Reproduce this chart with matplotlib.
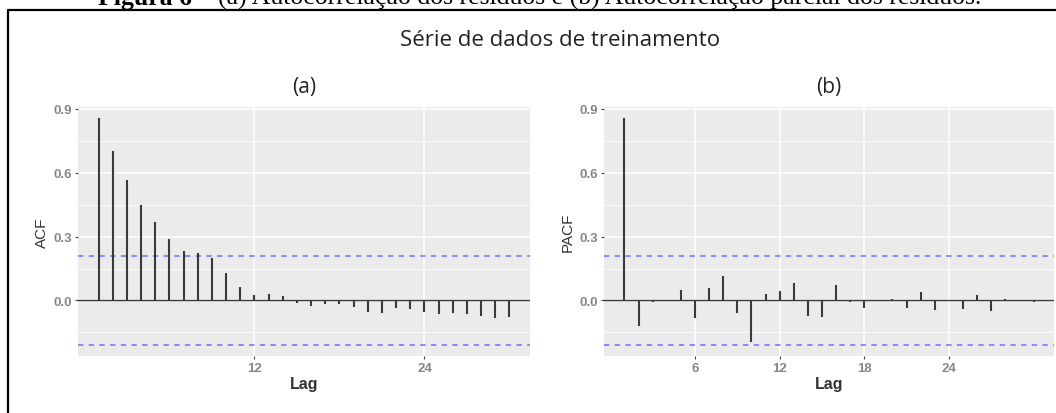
import numpy as np
import matplotlib
matplotlib.use("Agg")
import matplotlib.pyplot as plt
from matplotlib.lines import Line2D

# lags 1..30, values
lags = np.arange(1, 31)
acf_vals = [0.856, 0.701, 0.565, 0.450, 0.368, 0.287, 0.232, 0.221, 0.199, 0.128,
            0.063, 0.027, 0.030, 0.021, -0.014, -0.024, -0.017, -0.017, -0.033, -0.055,
            -0.058, -0.036, -0.041, -0.055, -0.063, -0.060, -0.062, -0.071, -0.081, -0.079]
pacf_vals = [0.856, -0.122, -0.008, 0.000, 0.049, -0.082, 0.057, 0.115, -0.060, -0.194,
             0.028, 0.044, 0.084, -0.073, -0.076, 0.073, -0.006, -0.035, 0.001, 0.008,
             -0.035, 0.038, -0.044, -0.002, -0.038, 0.025, -0.052, 0.005, 0.002, -0.006]
ci = 0.208

main_title = "Série de dados de treinamento"
caption_bold = "Figura 6"
caption_rest = " – (a) Autocorrelação dos resíduos e (b) Autocorrelação parcial dos resíduos."

W, H = 1056, 414
fig = plt.figure(figsize=(W / 100, H / 100), dpi=100)
fig.patch.set_facecolor("white")


def gg_panel(ax, values, ylabel, xticks):
    ax.set_facecolor("#EBEBEB")
    for s in ax.spines.values():
        s.set_visible(False)

    lo = min(min(values), -ci)
    hi = max(max(values), ci)
    pad = (hi - lo) * 0.05
    ax.set_ylim(lo - pad, hi + pad)
    xpad = (lags[-1] - lags[0]) * 0.05
    ax.set_xlim(lags[0] - xpad, lags[-1] + xpad)

    ax.set_yticks([0.0, 0.3, 0.6, 0.9])
    ax.set_yticklabels(["0.0", "0.3", "0.6", "0.9"])
    ax.set_yticks([-0.15, 0.15, 0.45, 0.75], minor=True)
    ax.set_xticks(xticks)
    ax.set_xticklabels([str(t) for t in xticks])

    ax.grid(True, which="major", color="white", linewidth=1.1)
    ax.grid(True, which="minor", axis="y", color="white", linewidth=0.55)
    ax.set_axisbelow(True)
    ax.tick_params(which="major", length=2.5, width=0.8, color="#444444",
                   labelsize=9.5, labelcolor="#868686", pad=2)
    ax.tick_params(which="minor", length=0)
    for lab in ax.get_xticklabels() + ax.get_yticklabels():
        lab.set_family("Liberation Sans")
        lab.set_weight("bold")

    ax.axhline(0, color="#3a3a3a", linewidth=1.0, zorder=2)
    ax.vlines(lags, 0, values, color="#3a3a3a", linewidth=1.5, zorder=3)
    ax.axhline(ci, color="#6f6fff", linewidth=1.1, linestyle=(0, (3.5, 3.5)), zorder=2)
    ax.axhline(-ci, color="#6f6fff", linewidth=1.1, linestyle=(0, (3.5, 3.5)), zorder=2)

    ax.set_xlabel("Lag", fontsize=11.5, color="#333333", labelpad=1,
                  family="Liberation Sans", weight="bold")
    ax.set_ylabel(ylabel, fontsize=11, color="#333333", labelpad=3,
                  family="Liberation Sans")


ax_a = fig.add_axes([78 / W, 1 - 357 / H, (530 - 78) / W, (357 - 108) / H])
ax_b = fig.add_axes([604 / W, 1 - 357 / H, (1054 - 604) / W, (357 - 108) / H])
gg_panel(ax_a, acf_vals, "ACF", [12, 24])
gg_panel(ax_b, pacf_vals, "PACF", [6, 12, 18, 24])

fig.text(560 / W, 1 - 40 / H, main_title, ha="center", va="center",
         fontsize=16, family="Open Sans", color="#222222")
fig.text(304 / W, 1 - 88 / H, "(a)", ha="center", va="center",
         fontsize=15, family="Open Sans", color="#222222")
fig.text(829 / W, 1 - 88 / H, "(b)", ha="center", va="center",
         fontsize=15, family="Open Sans", color="#222222")

# black frame around the plot (right and bottom edges fall outside the image)
fig.add_artist(Line2D([8 / W, 8 / W, 1.01], [-0.01, 1 - 11 / H, 1 - 11 / H],
                      transform=fig.transFigure, color="black", linewidth=1.6))

# caption above the frame, cut by the top edge
t1 = fig.text(98 / W, 1 - 5 / H, caption_bold, ha="left", va="baseline",
              fontsize=18.5, family="Liberation Serif", weight="bold", color="black")
fig.canvas.draw()
bb = t1.get_window_extent(fig.canvas.get_renderer())
fig.text(bb.x1 / W, 1 - 5 / H, caption_rest, ha="left", va="baseline",
         fontsize=18.5, family="Liberation Serif", color="black")

fig.savefig("out.png", dpi=100)
